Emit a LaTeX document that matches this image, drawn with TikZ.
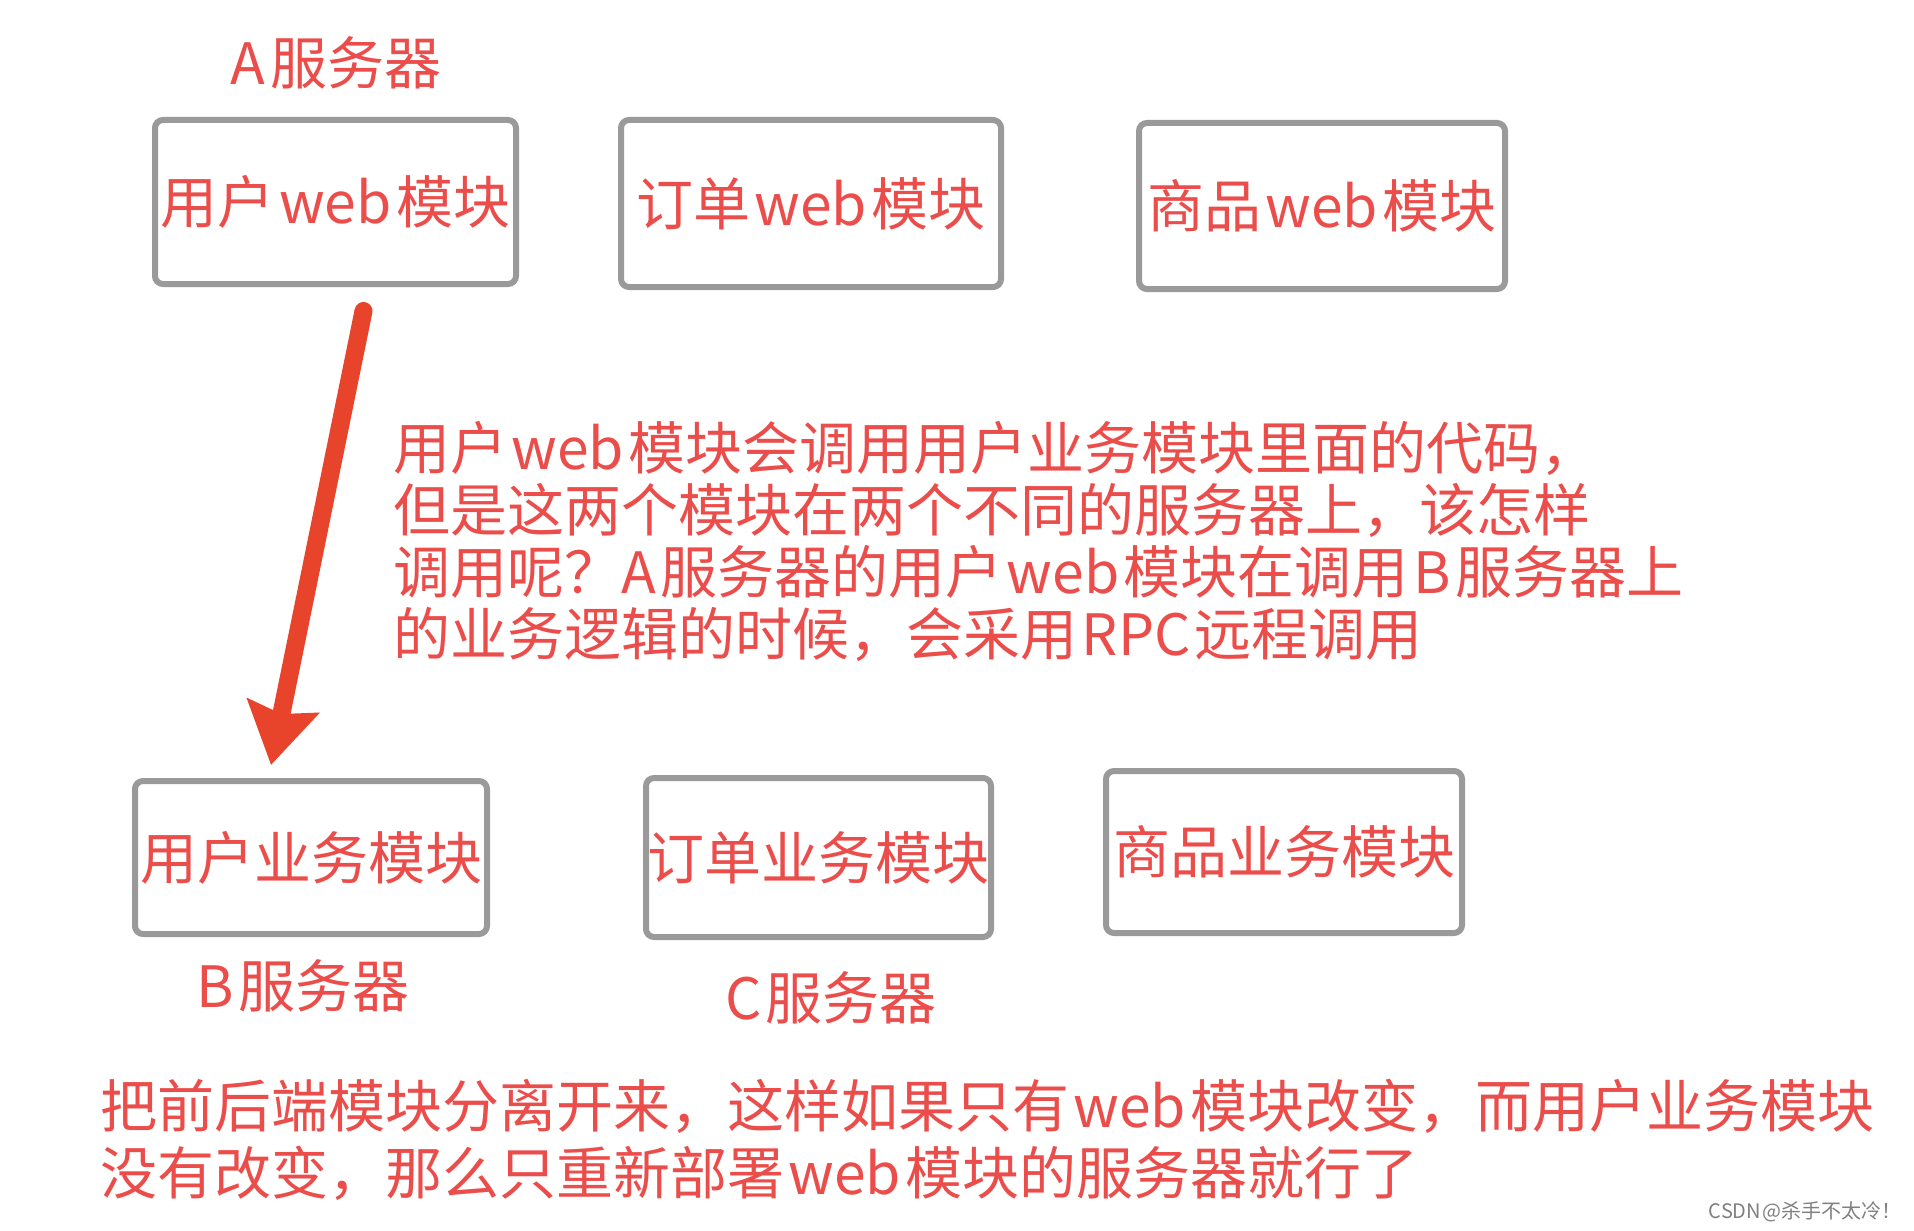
\documentclass[tikz,border=0pt]{standalone}
\usepackage{fontspec}
\newfontfamily\cjk{Noto Sans CJK SC}[WordSpace=0.35]
\usetikzlibrary{positioning,arrows.meta}
\definecolor{noteRed}{HTML}{EB4D4B}
\definecolor{arrowRed}{HTML}{E8432B}
\definecolor{boxGray}{HTML}{9A9A9A}

\begin{document}
\begin{tikzpicture}[x=0.5pt, y=-0.5pt,
    moduleBox/.style={rectangle, rounded corners=4pt, draw=boxGray, line width=3pt, fill=white, text=noteRed, font=\cjk\fontsize{28.5pt}{31pt}\selectfont, inner sep=0pt},
    serverLabel/.style={text=noteRed, font=\cjk\fontsize{28.5pt}{31pt}\selectfont, inner sep=0pt},
    noteText/.style={text=noteRed, align=left, anchor=north west, inner sep=0pt}
]
    \useasboundingbox[fill=white] (0,0) rectangle (1914,1230);

    \node[serverLabel] (serverA) at (336, 63) {A 服务器};

    \node[moduleBox, minimum width=180.5pt, minimum height=82pt] (webUser) at (335.5, 202) {用户 web 模块};
    \node[moduleBox, minimum width=190pt, minimum height=83.5pt] (webOrder) at (811, 203.5) {订单 web 模块};
    \node[moduleBox, minimum width=183pt, minimum height=83pt] (webGoods) at (1322, 206) {商品 web 模块};

    \node[moduleBox, minimum width=176pt, minimum height=76.5pt] (bizUser) at (311, 857.5) {用户业务模块};
    \node[moduleBox, minimum width=172.5pt, minimum height=79.5pt] (bizOrder) at (818.5, 857.5) {订单业务模块};
    \node[moduleBox, minimum width=178pt, minimum height=81pt] (bizGoods) at (1284, 852) {商品业务模块};

    \node[serverLabel] (serverB) at (303, 986) {B 服务器};
    \node[serverLabel] (serverC) at (831, 998) {C 服务器};

    \node[noteText, font=\cjk\fontsize{28.5pt}{31pt}\selectfont] (rpcNote) at (393, 421) {
        用户 web 模块会调用用户业务模块里面的代码，\\
        但是这两个模块在两个不同的服务器上，该怎样\\
        调用呢？A 服务器的用户 web 模块在调用 B 服务器上\\
        的业务逻辑的时候，会采用 RPC 远程调用
    };

    \node[noteText, font=\cjk\fontsize{28.5pt}{33.5pt}\selectfont] (splitNote) at (100, 1079) {
        把前后端模块分离开来，这样如果只有 web 模块改变，而用户业务模块\\
        没有改变，那么只重新部署 web 模块的服务器就行了
    };

    \node[text=gray, font=\cjk\fontsize{10pt}{12pt}\selectfont, anchor=east, inner sep=0pt] (mark) at (1902, 1212) {CSDN @杀手不太冷！};

    \draw[arrowRed, line width=9pt, line cap=round, -{Stealth[width=36pt, length=30pt, inset=4pt]}]
        ([xshift=14pt, yshift=-12pt]webUser.south) -- ([xshift=-20pt, yshift=6.5pt]bizUser.north);
\end{tikzpicture}
\end{document}
